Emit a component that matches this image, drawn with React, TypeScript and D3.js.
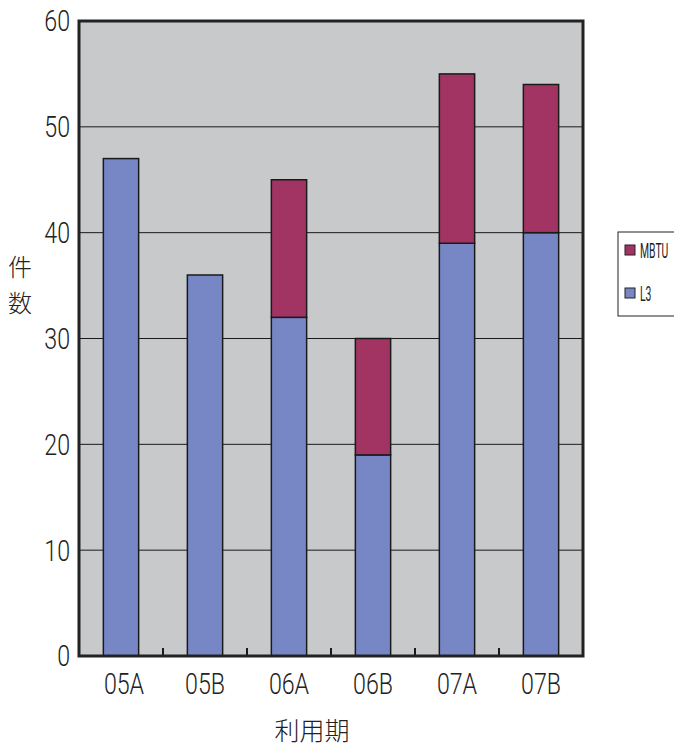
import React from "react";
import * as d3 from "d3";

const categories = ["05A", "05B", "06A", "06B", "07A", "07B"];
const l3Values = [47, 36, 32, 19, 39, 40];
const mbtuValues = [0, 0, 13, 11, 16, 14];
const seriesNames = ["L3", "MBTU"];
const yTicks = [0, 10, 20, 30, 40, 50, 60];

const colors: Record<string, string> = { L3: "#7787C6", MBTU: "#A13462" };

export default function App() {
  const W = 674, H = 747;
  const left = 79, right = 583, top = 21, bottom = 656;
  const x = d3.scaleBand<string>().domain(categories).range([left, right]).paddingInner(0.58).paddingOuter(0.29);
  const y = d3.scaleLinear().domain([0, 60]).range([bottom, top]);
  const rows = categories.map((c, i) => ({ cat: c, L3: l3Values[i], MBTU: mbtuValues[i] }));
  const stacked = d3.stack<any>().keys(seriesNames)(rows);
  const step = (right - left) / categories.length;
  const font = "Roboto, 'Liberation Sans', sans-serif";
  const cjk = "'Noto Sans CJK JP', sans-serif";

  return (
    <svg width={W} height={H} style={{ position: "absolute", left: 0, top: 0 }}>
      <rect x={left} y={top} width={right - left} height={bottom - top} fill="#C8C9CB" />
      {yTicks.filter(t => t > 0 && t < 60).map(t => (
        <line key={t} x1={left} x2={right} y1={y(t)} y2={y(t)} stroke="#1a1a1a" strokeWidth={1} />
      ))}
      {stacked.map(s => (
        <g key={s.key}>
          {s.map((d, i) => d[1] - d[0] > 0 ? (
            <rect key={i} x={x(categories[i])!} width={x.bandwidth()} y={y(d[1])} height={y(d[0]) - y(d[1])}
              fill={colors[s.key]} stroke="#1a1a1a" strokeWidth={1.5} />
          ) : null)}
        </g>
      ))}
      {categories.slice(1).map((c, i) => (
        <line key={c} x1={left + step * (i + 1)} x2={left + step * (i + 1)} y1={bottom} y2={bottom - 8} stroke="#1a1a1a" strokeWidth={2} />
      ))}
      <rect x={left} y={top} width={right - left} height={bottom - top} fill="none" stroke="#222" strokeWidth={3} />
      {yTicks.map(t => (
        <text key={t} transform={`translate(70, ${y(t)}) scale(0.8,1)`} dy="0.36em" textAnchor="end" fontFamily={font} fontWeight={300} fontSize={29} fill="#222">{t}</text>
      ))}
      {categories.map((c, i) => (
        <text key={c} transform={`translate(${x(c)! + x.bandwidth() / 2 + (i === 0 ? 3 : 0)}, 694) scale(0.8,1)`} textAnchor="middle" fontFamily={font} fontWeight={300} fontSize={29} fill="#222">{c}</text>
      ))}
      <text x={312} y={740} textAnchor="middle" fontFamily={cjk} fontWeight={300} fontSize={25} fill="#222">利用期</text>
      <text x={20} y={276} textAnchor="middle" fontFamily={cjk} fontWeight={300} fontSize={24} fill="#222">件</text>
      <text x={20} y={312} textAnchor="middle" fontFamily={cjk} fontWeight={300} fontSize={24} fill="#222">数</text>
      <rect x={618} y={232} width={70} height={84} fill="#fff" stroke="#222" strokeWidth={1} />
      {["MBTU", "L3"].map((k, i) => (
        <g key={k}>
          <rect x={625} y={245 + i * 43} width={10} height={10} fill={colors[k]} stroke="#222" strokeWidth={1} />
          <text transform={`translate(640, ${258 + i * 43}) scale(0.52,1)`} fontFamily={font} fontSize={20} fill="#222">{k}</text>
        </g>
      ))}
    </svg>
  );
}
